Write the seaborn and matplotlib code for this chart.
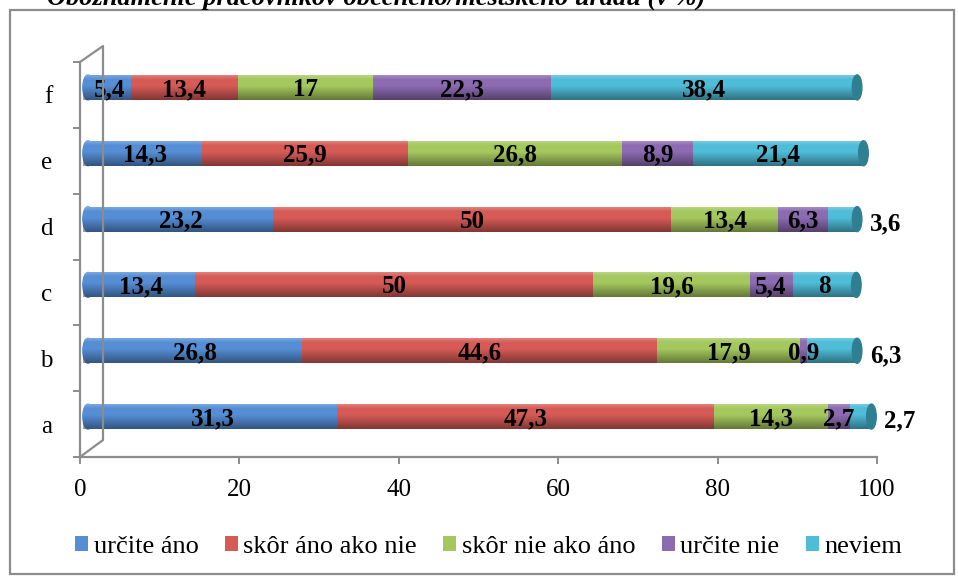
import numpy as np
import pandas as pd
import matplotlib
matplotlib.use('Agg')
import matplotlib.pyplot as plt
import matplotlib.transforms as mtransforms
from matplotlib.font_manager import FontProperties
from matplotlib.patches import Ellipse, Patch, Rectangle
from matplotlib.lines import Line2D
import seaborn as sns

# data (values in %)
categories = ['a', 'b', 'c', 'd', 'e', 'f']
series = ['určite áno', 'skôr áno ako nie', 'skôr nie ako áno', 'určite nie', 'neviem']
urcite_ano = [31.3, 26.8, 13.4, 23.2, 14.3, 5.4]
skor_ano_ako_nie = [47.3, 44.6, 50, 50, 25.9, 13.4]
skor_nie_ako_ano = [14.3, 17.9, 19.6, 13.4, 26.8, 17]
urcite_nie = [2.7, 0.9, 5.4, 6.3, 8.9, 22.3]
neviem = [2.7, 6.3, 8, 3.6, 21.4, 38.4]
colors = ['#558ED5', '#D65B57', '#A5C85E', '#8C6BB1', '#4FBCD8']
cap_color = '#2F7F93'
title = 'Oboznámenie pracovníkov obecného/mestského úradu (v %)'
x_ticks = [0, 20, 40, 60, 80, 100]

df = pd.DataFrame(
    np.column_stack([urcite_ano, skor_ano_ako_nie, skor_nie_ako_ano, urcite_nie, neviem]),
    columns=series, index=categories)
cum = df.cumsum(axis=1)
cum['kategoria'] = categories

sns.set_theme(style='white')
serif = ['Liberation Serif', 'DejaVu Serif']
plt.rcParams['font.family'] = serif
plt.rcParams['text.color'] = 'black'
plt.rcParams['xtick.labelcolor'] = 'black'
plt.rcParams['ytick.labelcolor'] = 'black'
gray = '#8c8c8c'

W, H = 958, 577
fig = plt.figure(figsize=(W / 100, H / 100), dpi=100)
ax = fig.add_axes([80 / W, 1 - 457 / H, 797 / W, 395 / H])

order = categories[::-1]
bar_h = 0.38
# pseudo-3D: bars sit a little right/up from the axis
shift = mtransforms.ScaledTranslation(8 / 100, 7.5 / 100, fig.dpi_scale_trans)
bar_tr = ax.transData + shift

# stacked bars: draw cumulative totals from the last series to the first
for i in reversed(range(len(series))):
    sns.barplot(data=cum, x=series[i], y='kategoria', order=order, orient='h',
                color=colors[i], saturation=1, width=bar_h, edgecolor='none',
                linewidth=0, ax=ax, zorder=2)
for p in ax.patches:
    p.set_transform(bar_tr)

# cylinder shading, rounded ends and data labels
t = np.linspace(0, 1, 60)
grad = np.zeros((60, 1, 4))
grad[:, 0, :3] = np.where(t < 0.35, 1.0, 0.0)[:, None]
grad[:, 0, 3] = np.where(t < 0.35, 0.28 * np.clip(1 - t / 0.2, 0, 1),
                         0.40 * np.clip((t - 0.45) / 0.55, 0, 1))

for cat in categories:
    pos = order.index(cat)
    total = cum.loc[cat, series[-1]]
    ax.add_patch(Ellipse((0, pos), width=1.3, height=bar_h, color=colors[0],
                         transform=bar_tr, zorder=2))
    im = ax.imshow(grad, extent=(-0.65, total, pos + bar_h / 2, pos - bar_h / 2),
                   aspect='auto', interpolation='bilinear', zorder=3)
    im.set_transform(bar_tr)
    ax.add_patch(Ellipse((total, pos), width=1.2, height=bar_h, color=cap_color,
                         transform=bar_tr, zorder=4))
    prev = 0
    for i, s in enumerate(series):
        v = df.loc[cat, s]
        lab = f'{v:g}'.replace('.', ',')
        if i == len(series) - 1 and v < 7:
            ax.text(total + 1.6, pos + 0.07, lab, transform=bar_tr, ha='left',
                    va='center', fontsize=18, fontweight='bold', color='black', zorder=5)
        else:
            ax.text(prev + v / 2, pos + 0.03, lab, transform=bar_tr, ha='center',
                    va='center', fontsize=18, fontweight='bold', color='black', zorder=5)
        prev += v

ax.set_xlim(0, 100)
ax.set_ylim(5.5, -0.5)
ax.set_xlabel('')
ax.set_ylabel('')
ax.set_xticks(x_ticks)
ax.set_xticklabels([str(v) for v in x_ticks])
ax.set_yticks(range(len(order)))
ax.set_yticklabels(order)
ax.set_yticks(np.arange(-0.5, 6, 1), minor=True)
for side in ['top', 'right']:
    ax.spines[side].set_visible(False)
for side in ['left', 'bottom']:
    ax.spines[side].set_color(gray)
    ax.spines[side].set_linewidth(1.6)
ax.tick_params(axis='x', length=5, width=1.4, color=gray, labelsize=18, pad=11,
               direction='out', bottom=True)
ax.tick_params(axis='y', which='major', length=0, labelsize=18, pad=20)
ax.tick_params(axis='y', which='minor', length=5, width=1.4, color=gray,
               direction='out', left=True)

# back wall of the 3D plot area
px = lambda x, y: (x / W, 1 - y / H)
wall = [px(80, 62), px(103, 46), px(103, 440), px(80, 457)]
fig.add_artist(Line2D([p[0] for p in wall], [p[1] for p in wall],
                      color=gray, lw=1.6, transform=fig.transFigure, zorder=1))

# outer frame of the chart
fig.add_artist(Rectangle(px(10, 574), 944 / W, 564 / H, fill=False,
                         edgecolor=gray, lw=1.6, transform=fig.transFigure))

# title (cut off at the top edge as in the source)
fig.text(705 / W, 1 - 5 / H, title, ha='right', va='baseline', fontsize=19,
         fontweight='bold', fontstyle='italic', family=serif)

handles = [Patch(facecolor=c, edgecolor='none', label=s) for s, c in zip(series, colors)]
leg = fig.legend(handles=handles, loc='center', bbox_to_anchor=(0.51, 1 - 547 / H),
                 ncol=5, frameon=False, prop=FontProperties(family=serif, size=19),
                 handlelength=0.5, handleheight=0.5, handletextpad=0.2,
                 columnspacing=1.0)
for txt in leg.get_texts():
    txt.set_fontfamily(serif)
    txt.set_color('black')

fig.savefig('out.png', dpi=100)
